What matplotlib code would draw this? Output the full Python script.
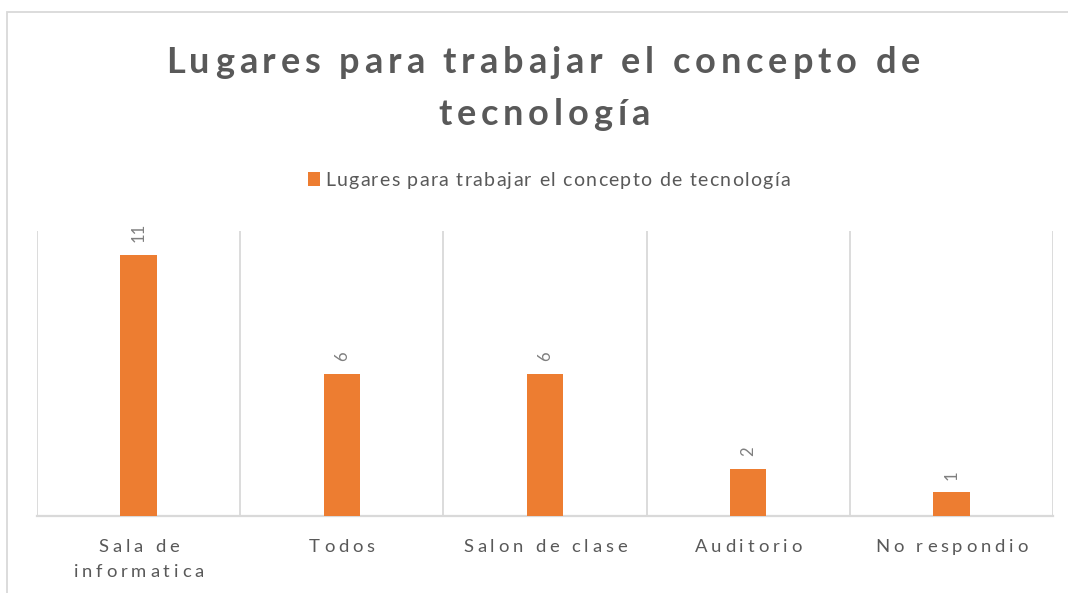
import numpy as np
import matplotlib
matplotlib.use("Agg")
from matplotlib import pyplot as plt
from matplotlib.transforms import IdentityTransform
from matplotlib.patches import Rectangle

##########
# Data   #
##########

categories = ["Sala de\ninformatica", "Todos", "Salon de clase", "Auditorio", "No respondio"]
values = [11, 6, 6, 2, 1]
series_name = "Lugares para trabajar el concepto de tecnología"
title_lines = ["Lugares para trabajar el concepto de", "tecnología"]

##########
# Styles #
##########

W, H = 1068, 593
orange = "#ED7D31"
dark = "#595959"
grid_col = "#D9D9D9"
font = "Lato"

fig = plt.figure(figsize=(W / 100, H / 100), dpi=100)
renderer = fig.canvas.get_renderer()


def measure(txt, **kw):
    t = fig.text(0, 0, txt, transform=IdentityTransform(), **kw)
    w = t.get_window_extent(renderer).width
    t.remove()
    return w


def spaced_text(s, cx, baseline, spacing, **kw):
    # draw text with extra letter spacing, centered at cx (pixel coords from top-left)
    ref = measure("ll", **kw)
    widths = [measure("l" + ch + "l", **kw) - ref for ch in s]
    total = sum(widths) + spacing * (len(s) - 1)
    x = cx - total / 2
    for ch, w in zip(s, widths):
        if ch != " ":
            fig.text(x, H - baseline, ch, transform=IdentityTransform(),
                     ha="left", va="baseline", **kw)
        x += w + spacing


# chart frame
fig.patches.append(Rectangle((7, -20), W + 20, H - 12 + 20, transform=IdentityTransform(),
                             fill=False, edgecolor=grid_col, linewidth=1.3))

# plot area
left, right, top, base = 37, 1053, 231, 516
ax = fig.add_axes([left / W, (H - base) / H, (right - left) / W, (base - top) / H])
x = np.arange(len(categories))
bars = ax.bar(x, values, width=0.18, color=orange, zorder=3)
ax.set_xlim(-0.5, len(categories) - 0.5)
ax.set_ylim(0, 12)
ax.set_xticks(np.arange(-0.5, len(categories)), minor=True)
ax.set_xticks([])
ax.set_yticks([])
ax.tick_params(which="both", length=0)
ax.grid(True, which="minor", axis="x", color=grid_col, linewidth=1.3)
for sp in ["top", "left", "right"]:
    ax.spines[sp].set_visible(False)
ax.spines["bottom"].set_color(grid_col)
ax.spines["bottom"].set_linewidth(1.6)
ax.set_facecolor("none")

# data labels
for xi, v in zip(x, values):
    ax.annotate(str(v), (xi, v), xytext=(0, 9), textcoords="offset points",
                rotation=90, ha="center", va="bottom", color="#7F7F7F",
                fontsize=12, family=font)

# category labels with letter spacing
for xi, lab in zip(x, categories):
    cx = ax.transData.transform((xi, 0))[0]
    for k, line in enumerate(lab.split("\n")):
        spaced_text(line, cx, 552 + 25 * k, 3.8, fontsize=13.3, family=font, color=dark)

# title
spaced_text(title_lines[0], 543, 73, 4.9, fontsize=26, family=font, weight="bold", color=dark)
spaced_text(title_lines[1], 544, 125, 4.9, fontsize=26, family=font, weight="bold", color=dark)

# legend
fig.patches.append(Rectangle((308, H - 186), 12, 14, transform=IdentityTransform(),
                             facecolor=orange, edgecolor="none"))
spaced_text(series_name, 557.5, 186, 1.3, fontsize=14, family=font, color=dark)

fig.savefig("out.png", dpi=100)
